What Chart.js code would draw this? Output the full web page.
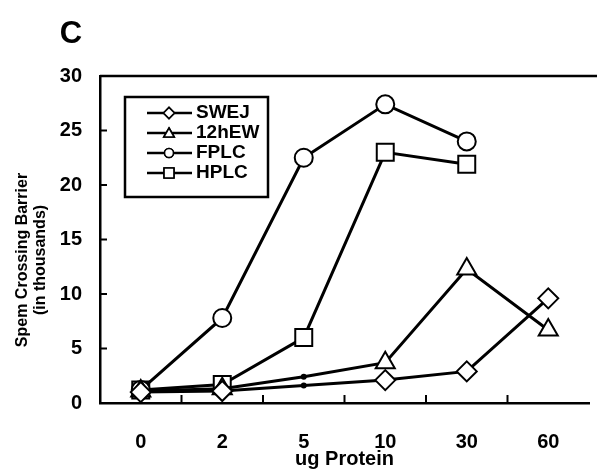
<!DOCTYPE html>
<html>
<head>
<meta charset="utf-8">
<script src="https://cdn.jsdelivr.net/npm/chart.js@4.4.0/dist/chart.umd.min.js"></script>
<style>
  html, body { margin: 0; padding: 0; background: #fff; overflow: hidden; }
  #wrap { position: relative; width: 603px; height: 469px; }
</style>
</head>
<body>
<div id="wrap"><canvas id="c"></canvas></div>
<script>
// ---- data ----
const categories = ['0', '2', '5', '10', '30', '60'];
const swej   = [1.0, 1.1, 1.6, 2.1, 2.9, 9.6];
const hEW12  = [1.1, 1.3, 2.4, 3.7, 12.3, 6.7];
const fplc   = [1.2, 7.8, 22.5, 27.4, 24.0, null];
const hplc   = [1.2, 1.7, 6.0, 23.0, 21.9, null];
const yTicks = [0, 5, 10, 15, 20, 25, 30];
const seriesNames = ['SWEJ', '12hEW', 'FPLC', 'HPLC'];
const panelLabel = 'C';
const yTitleLines = ['Spem Crossing Barrier', '(in thousands)'];
const xTitle = 'ug Protein';

const FONT = '"Liberation Sans Narrow", "Arial Narrow", "Liberation Sans", Arial, sans-serif';

function ds(label, data, style, radius, hidden5) {
  const radii = data.map((v, i) => (hidden5 && i === 2) ? 2 : radius);
  const bgs = data.map((v, i) => (hidden5 && i === 2) ? '#000' : '#fff');
  const styles = data.map((v, i) => (hidden5 && i === 2) ? 'circle' : style);
  return {
    label, data,
    borderColor: '#000', borderWidth: 3,
    pointStyle: styles, pointRadius: radii, pointBackgroundColor: bgs,
    pointBorderColor: '#000', pointBorderWidth: 2,
    pointHoverRadius: radii, tension: 0, fill: false, spanGaps: false,
    legendStyle: style
  };
}

const framePlugin = {
  id: 'frame',
  afterDraw(chart) {
    const ctx = chart.ctx;
    const a = chart.chartArea;
    const xs = chart.scales.x, ys = chart.scales.y;
    ctx.save();
    ctx.strokeStyle = '#000';
    ctx.lineWidth = 2.5;
    ctx.beginPath(); ctx.moveTo(a.left, a.top); ctx.lineTo(a.right + 10, a.top); ctx.stroke();
    ctx.lineWidth = 2;
    yTicks.forEach(v => {
      if (v === 0 || v === 30) return;
      const p = ys.getPixelForValue(v);
      ctx.beginPath(); ctx.moveTo(a.left, p); ctx.lineTo(a.left + 7, p); ctx.stroke();
    });
    for (let i = 0; i < categories.length - 1; i++) {
      const p = (xs.getPixelForValue(i) + xs.getPixelForValue(i + 1)) / 2;
      ctx.beginPath(); ctx.moveTo(p, a.bottom); ctx.lineTo(p, a.bottom - 8); ctx.stroke();
    }
    ctx.fillStyle = '#000';
    ctx.font = 'bold 31px ' + FONT;
    ctx.textAlign = 'center'; ctx.textBaseline = 'middle';
    ctx.fillText(panelLabel, 71, 34);
    ctx.font = 'bold 16px ' + FONT;
    ctx.save();
    ctx.translate(0, 260);
    ctx.rotate(-Math.PI / 2);
    ctx.fillText(yTitleLines[0], 0, 23);
    ctx.fillText(yTitleLines[1], 0, 41);
    ctx.restore();
    ctx.lineWidth = 2.5;
    ctx.strokeRect(125, 97, 143, 100);
    const rows = [113, 133, 153, 173];
    const legR = { rectRot: 5.5, triangle: 6, circle: 4.5, rect: 7 };
    chart.data.datasets.forEach((d, i) => {
      const y = rows[i];
      ctx.lineWidth = 2.5;
      ctx.beginPath(); ctx.moveTo(147, y); ctx.lineTo(192, y); ctx.stroke();
      ctx.fillStyle = '#fff'; ctx.lineWidth = 1.6;
      Chart.helpers.drawPoint(ctx, { pointStyle: d.legendStyle, radius: legR[d.legendStyle], borderWidth: 1.6, rotation: 0 }, 169, y + (d.legendStyle === 'triangle' ? 1 : 0));
      ctx.fill(); ctx.stroke();
      ctx.fillStyle = '#000';
      ctx.font = 'bold 19px ' + FONT;
      ctx.textAlign = 'left'; ctx.textBaseline = 'middle';
      ctx.fillText(seriesNames[i], 196, y);
    });
    ctx.restore();
  }
};

new Chart(document.getElementById('c'), {
  type: 'line',
  data: {
    labels: categories,
    datasets: [
      ds(seriesNames[0], swej, 'rectRot', 10, true),
      ds(seriesNames[1], hEW12, 'triangle', 11, true),
      ds(seriesNames[2], fplc, 'circle', 9, false),
      ds(seriesNames[3], hplc, 'rect', 12, false)
    ]
  },
  options: {
    responsive: true, maintainAspectRatio: false, animation: false,
    layout: { padding: { left: 0, top: 76, right: 5, bottom: 0 } },
    plugins: { legend: { display: false }, tooltip: { enabled: false } },
    scales: {
      x: {
        type: 'category', offset: true,
        grid: { display: false, drawTicks: false },
        border: { display: true, color: '#000', width: 2.5 },
        ticks: { color: '#000', font: { family: FONT, size: 20, weight: 'bold' }, padding: 27, maxRotation: 0 },
        title: { display: true, text: xTitle, color: '#000', font: { family: FONT, size: 20, weight: 'bold' }, padding: { top: 0, bottom: -2 } },
        afterFit(s) { s.height = 66; }
      },
      y: {
        min: 0, max: 30,
        grid: { display: false, drawTicks: false },
        border: { display: true, color: '#000', width: 2.5 },
        afterBuildTicks(s) { s.ticks = yTicks.map(v => ({ value: v })); },
        ticks: { color: '#000', font: { family: FONT, size: 20, weight: 'bold' }, padding: 18 },
        afterFit(s) { s.width = 100; }
      }
    }
  },
  plugins: [framePlugin]
});
</script>
</body>
</html>
